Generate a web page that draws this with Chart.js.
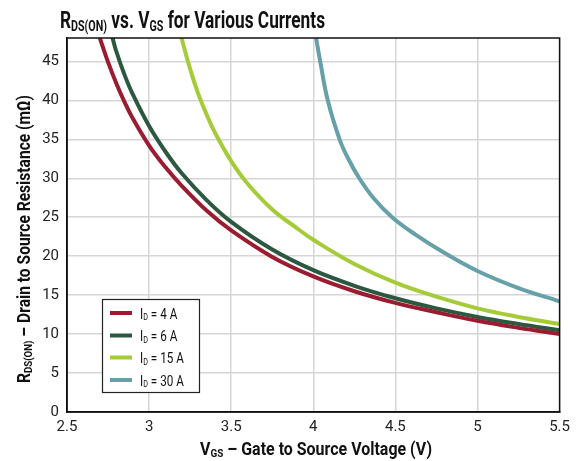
<!DOCTYPE html>
<html>
<head>
<meta charset="utf-8">
<script src="https://cdn.jsdelivr.net/npm/chart.js@4/dist/chart.umd.min.js"></script>
<style>
  body { margin: 0; background: #fff; }
</style>
</head>
<body>
<canvas id="chart" width="576" height="461"></canvas>
<script>
const FONT = "Roboto, 'Liberation Sans', sans-serif";

// === DATA ===
const currentLabels = ['4 A', '6 A', '15 A', '30 A'];
const lineColors = ['#9b1c30', '#2d5840', '#a5cc38', '#66a0a9'];

const vgs4A = [2.70, 2.75, 2.80, 2.85, 2.90, 3.00, 3.10, 3.20, 3.35, 3.50, 3.75, 4.00, 4.25, 4.50, 4.75, 5.00, 5.25, 5.50];
const rds4A = [48.0, 44.9, 42.2, 39.8, 37.7, 34.2, 31.4, 29.0, 25.85, 23.3, 19.9, 17.4, 15.5, 14.0, 12.8, 11.7, 10.8, 10.0];

const vgs6A = [2.775, 2.80, 2.85, 2.90, 3.00, 3.10, 3.20, 3.35, 3.50, 3.75, 4.00, 4.25, 4.50, 4.75, 5.00, 5.25, 5.50];
const rds6A = [48.2, 46.3, 43.3, 40.8, 36.7, 33.4, 30.6, 27.2, 24.4, 20.85, 18.2, 16.2, 14.6, 13.3, 12.2, 11.3, 10.5];

const vgs15A = [3.195, 3.25, 3.30, 3.35, 3.40, 3.50, 3.60, 3.75, 3.90, 4.00, 4.25, 4.50, 4.75, 5.00, 5.25, 5.50];
const rds15A = [48.2, 44.0, 40.8, 38.2, 35.9, 32.2, 29.3, 26.0, 23.6, 22.1, 19.0, 16.6, 14.8, 13.3, 12.2, 11.3];

const vgs30A = [4.017, 4.042, 4.088, 4.16, 4.213, 4.28, 4.365, 4.48, 4.62, 4.80, 5.00, 5.25, 5.50];
const rds30A = [48.0, 45.0, 40.0, 35.0, 32.5, 30.0, 27.5, 25.0, 22.8, 20.4, 18.1, 15.9, 14.2];

const xTickValues = [2.5, 3, 3.5, 4, 4.5, 5, 5.5];

const allX = [vgs4A, vgs6A, vgs15A, vgs30A];
const allY = [rds4A, rds6A, rds15A, rds30A];

// === TEXT WITH SUBSCRIPTS ===
function richWidth(ctx, parts, size, weight) {
    let w = 0;
    parts.forEach(p => {
        ctx.font = weight + ' ' + (p.sub ? size * 0.62 : size) + 'px ' + FONT;
        w += ctx.measureText(p.t).width;
    });
    return w;
}
// draws parts starting at (x, y) baseline, squeezed horizontally by sx
function drawRich(ctx, parts, x, y, size, weight, color, sx) {
    ctx.save();
    ctx.translate(x, y);
    ctx.scale(sx, 1);
    ctx.fillStyle = color;
    ctx.textBaseline = 'alphabetic';
    ctx.textAlign = 'left';
    let cx = 0;
    parts.forEach(p => {
        let s = p.sub ? size * 0.62 : size;
        ctx.font = weight + ' ' + s + 'px ' + FONT;
        ctx.fillText(p.t, cx, p.sub ? size * 0.12 : 0);
        cx += ctx.measureText(p.t).width;
    });
    ctx.restore();
}

const decor = {
    id: 'decor',
    afterDraw(chart) {
        const ctx = chart.ctx;
        const a = chart.chartArea;
        ctx.save();
        // frame round the plot
        ctx.strokeStyle = '#111';
        ctx.lineWidth = 1.5;
        ctx.strokeRect(a.left, a.top, a.right - a.left, a.bottom - a.top);

        // title
        const tt = [{t: 'R'}, {t: 'DS(ON)', sub: true}, {t: ' vs. V'}, {t: 'GS', sub: true}, {t: ' for Various Currents'}];
        drawRich(ctx, tt, 60, 28, 24, 'bold', '#111', 265 / richWidth(ctx, tt, 24, 'bold'));

        // x axis title
        const xt = [{t: 'V'}, {t: 'GS', sub: true}, {t: ' \u2013 Gate to Source Voltage (V)'}];
        drawRich(ctx, xt, 200, 455, 19, 'bold', '#111', 232 / richWidth(ctx, xt, 19, 'bold'));

        // y axis title
        const yt = [{t: 'R'}, {t: 'DS(ON)', sub: true}, {t: ' \u2013 Drain to Source Resistance (m\u03a9)'}];
        ctx.save();
        ctx.translate(30, 383);
        ctx.rotate(-Math.PI / 2);
        drawRich(ctx, yt, 0, 0, 19, 'bold', '#111', 288 / richWidth(ctx, yt, 19, 'bold'));
        ctx.restore();

        // legend box
        ctx.fillStyle = '#fff';
        ctx.fillRect(102.5, 299.5, 97, 93);
        ctx.strokeStyle = '#222';
        ctx.lineWidth = 1.2;
        ctx.strokeRect(102.5, 299.5, 97, 93);
        const rows = [313, 335.5, 357.5, 380];
        currentLabels.forEach((lab, i) => {
            ctx.strokeStyle = lineColors[i];
            ctx.lineWidth = 4;
            ctx.beginPath();
            ctx.moveTo(110, rows[i]);
            ctx.lineTo(132, rows[i]);
            ctx.stroke();
            drawRich(ctx, [{t: 'I'}, {t: 'D', sub: true}, {t: ' = ' + lab}], 140, rows[i] + 5.5, 15, 'normal', '#111', 0.78);
        });
        ctx.restore();
    }
};

const datasets = currentLabels.map((lab, i) => ({
    label: 'ID = ' + lab,
    data: allX[i].map((v, j) => ({x: v, y: allY[i][j]})),
    showLine: true,
    borderColor: lineColors[i],
    backgroundColor: lineColors[i],
    borderWidth: 4,
    pointRadius: 0,
    tension: 0.4,
    fill: false
}));

new Chart(document.getElementById('chart').getContext('2d'), {
    type: 'scatter',
    data: { datasets: datasets },
    options: {
        responsive: false,
        animation: false,
        layout: { padding: { top: 38, right: 16, left: 0, bottom: 0 } },
        plugins: { legend: { display: false }, tooltip: { enabled: false }, title: { display: false } },
        scales: {
            x: {
                type: 'linear', min: 2.5, max: 5.5,
                afterBuildTicks: s => { s.ticks = xTickValues.map(v => ({value: v})); },
                ticks: { color: '#222', font: { family: FONT, size: 15 }, padding: 6,
                    callback: v => String(v) },
                grid: { color: '#d6d6d6', lineWidth: 1.5, drawTicks: false },
                border: { color: '#111', width: 1.5 },
                afterFit: s => { s.height = 49; }
            },
            y: {
                type: 'linear', min: 0, max: 48,
                ticks: { stepSize: 5, includeBounds: false, color: '#222', font: { family: FONT, size: 15 }, padding: 8 },
                grid: { color: '#d6d6d6', lineWidth: 1.5, drawTicks: false },
                border: { color: '#111', width: 1.5 },
                afterFit: s => { s.width = 67; }
            }
        }
    },
    plugins: [decor]
});
</script>
</body>
</html>
